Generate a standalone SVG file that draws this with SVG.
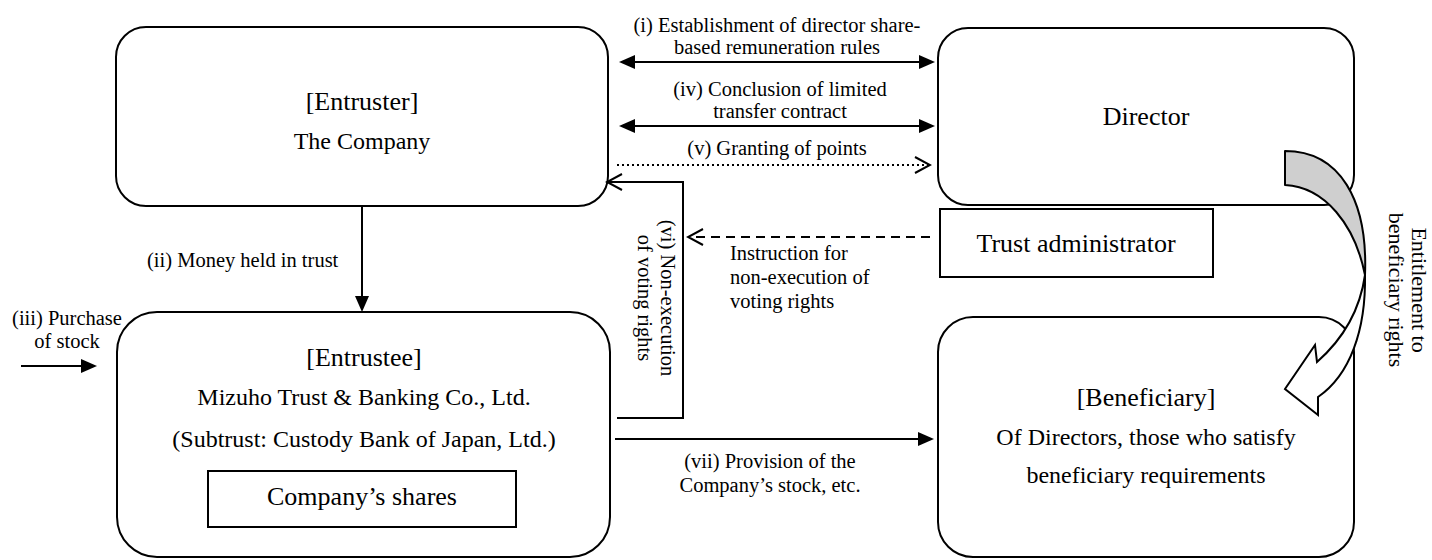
<svg xmlns="http://www.w3.org/2000/svg" width="1432" height="560" viewBox="0 0 1432 560">
<style>
.box{fill:#fff;stroke:#000;stroke-width:2}
.t{font-family:"Liberation Serif","Times New Roman",serif;fill:#000}
.tt{font-size:26px;text-anchor:middle}
.tb{font-size:24px;text-anchor:middle}
.lb{font-size:20.5px}
.c{text-anchor:middle}
.ln{fill:none;stroke:#000;stroke-width:2}
</style>
<defs>
<marker id="af" viewBox="0 0 16 14" refX="2" refY="7" markerWidth="16" markerHeight="14" markerUnits="userSpaceOnUse" orient="auto-start-reverse">
<path d="M0,0 L16,7 L0,14 Z" fill="#000"/>
</marker>
<marker id="ao" viewBox="-1 -1 18 18" refX="15" refY="8" markerWidth="18" markerHeight="18" markerUnits="userSpaceOnUse" orient="auto">
<path d="M0,0 L15,8 L0,16" fill="none" stroke="#000" stroke-width="2" stroke-dasharray="none"/>
</marker>
</defs>
<rect width="1432" height="560" fill="#fff"/>

<g id="entruster">
<rect class="box" x="116" y="27" width="492" height="179" rx="30"/>
<text class="t tt" x="362" y="110">[Entruster]</text>
<text class="t tb" x="362" y="149">The Company</text>
</g>

<g id="director">
<rect class="box" x="938" y="28" width="416" height="177" rx="30"/>
<text class="t tt" x="1146" y="125">Director</text>
</g>

<g id="trust-admin">
<rect class="box" x="940" y="209" width="273" height="68"/>
<text class="t tt" x="1076" y="252">Trust administrator</text>
</g>

<g id="entrustee">
<rect class="box" x="117" y="312" width="493" height="245" rx="40"/>
<text class="t tt" x="364" y="366">[Entrustee]</text>
<text class="t tb" x="364" y="405">Mizuho Trust &amp; Banking Co., Ltd.</text>
<text class="t tb" x="364" y="447">(Subtrust: Custody Bank of Japan, Ltd.)</text>
<rect class="box" x="208" y="471" width="308" height="56"/>
<text class="t tt" x="362" y="505">Company’s shares</text>
</g>

<g id="beneficiary">
<rect class="box" x="938" y="317" width="416" height="240" rx="35"/>
<text class="t tt" x="1146" y="406">[Beneficiary]</text>
<text class="t tb" x="1146" y="445">Of Directors, those who satisfy</text>
<text class="t tb" x="1146" y="483">beneficiary requirements</text>
</g>

<g id="connectors">
<line class="ln" x1="633" y1="62" x2="921" y2="62" marker-start="url(#af)" marker-end="url(#af)"/>
<line class="ln" x1="633" y1="126" x2="921" y2="126" marker-start="url(#af)" marker-end="url(#af)"/>
<line class="ln" x1="617" y1="165" x2="930" y2="165" stroke-dasharray="2 3" marker-end="url(#ao)"/>
<polyline class="ln" points="617,418 683,418 683,182 607,182" marker-end="url(#ao)"/>
<line class="ln" x1="930" y1="237" x2="688" y2="237" stroke-dasharray="9 6" marker-end="url(#ao)"/>
<line class="ln" x1="362" y1="206" x2="362" y2="298" marker-end="url(#af)"/>
<line class="ln" x1="615" y1="439" x2="920" y2="439" marker-end="url(#af)"/>
<line class="ln" x1="21" y1="366" x2="83" y2="366" marker-end="url(#af)"/>
<path d="M1285,151 C1340,151 1368,200 1365,275 C1355,225 1325,187 1285,185 Z" fill="#cfcfcf" stroke="#000" stroke-width="2" stroke-linejoin="round"/>
<path d="M1365,275 C1366,330 1350,375 1318,397 L1318,415 L1285,389 L1315,345 L1317,362 C1342,340 1360,310 1365,275 Z" fill="#fff" stroke="#000" stroke-width="2" stroke-linejoin="miter"/>
</g>

<g id="labels">
<text class="t lb c" x="777" y="32">(i) Establishment of director share-</text>
<text class="t lb c" x="777" y="54">based remuneration rules</text>
<text class="t lb c" x="780" y="96">(iv) Conclusion of limited</text>
<text class="t lb c" x="780" y="118">transfer contract</text>
<text class="t lb c" x="777" y="155">(v) Granting of points</text>
<text class="t lb" x="147" y="267">(ii) Money held in trust</text>
<text class="t lb c" x="67" y="325">(iii) Purchase</text>
<text class="t lb c" x="67" y="348">of stock</text>
<text class="t lb" x="730" y="260">Instruction for</text>
<text class="t lb" x="730" y="284">non-execution of</text>
<text class="t lb" x="730" y="308">voting rights</text>
<text class="t lb c" x="770" y="468">(vii) Provision of the</text>
<text class="t lb c" x="770" y="492">Company’s stock, etc.</text>
<g transform="translate(661,298) rotate(90)">
<text class="t lb c" x="0" y="0">(vi) Non-execution</text>
<text class="t lb c" x="0" y="23">of voting rights</text>
</g>
<g transform="translate(1412,290) rotate(90)">
<text class="t c" font-size="22" x="0" y="0">Entitlement to</text>
<text class="t c" font-size="22" x="0" y="23">beneficiary rights</text>
</g>
</g>
</svg>
